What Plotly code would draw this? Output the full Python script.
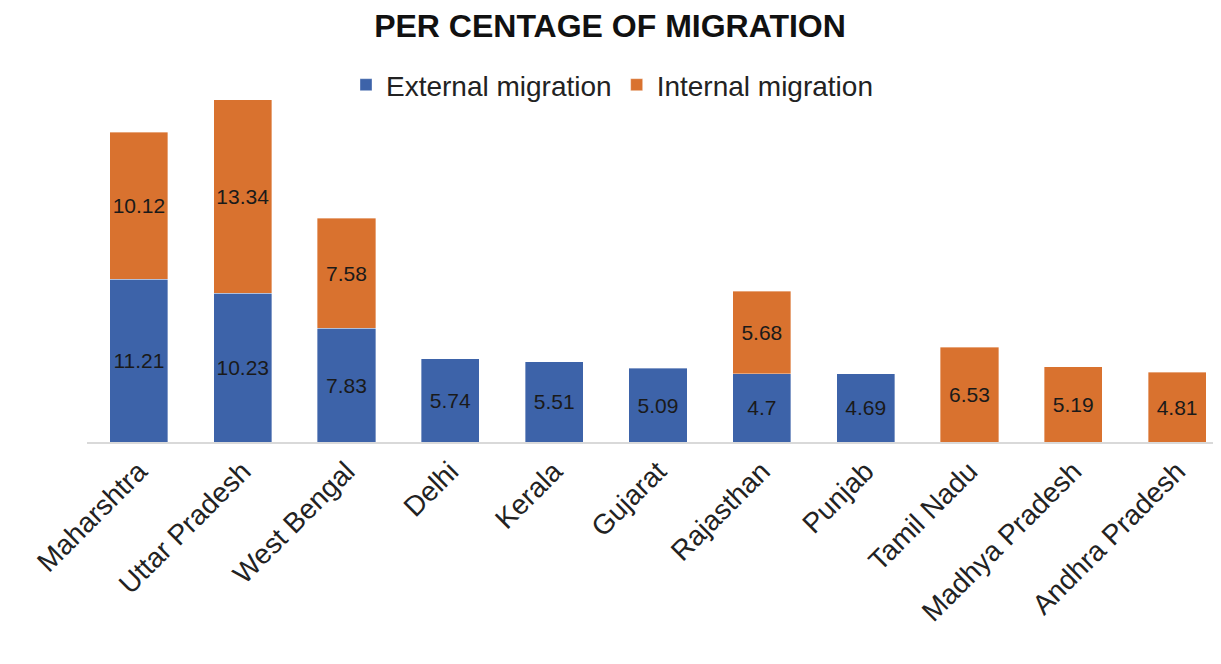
import plotly.graph_objects as go

states = ["Maharshtra", "Uttar Pradesh", "West Bengal", "Delhi", "Kerala", "Gujarat",
          "Rajasthan", "Punjab", "Tamil Nadu", "Madhya Pradesh", "Andhra Pradesh"]
external = [11.21, 10.23, 7.83, 5.74, 5.51, 5.09, 4.7, 4.69, None, None, None]
internal = [10.12, 13.34, 7.58, None, None, None, 5.68, None, 6.53, 5.19, 4.81]

BLUE = "#3D63A9"
ORANGE = "#D9722F"
FONT = "Liberation Sans, Arial, sans-serif"
OFF = 8  # page body margin

fig = go.Figure()
for name, vals, col in [("External migration", external, BLUE),
                        ("Internal migration", internal, ORANGE)]:
    fig.add_trace(go.Bar(
        x=states, y=vals, name=name,
        marker=dict(color=col, line=dict(color="rgba(255,255,255,0.6)", width=0.6)),
        text=[("" if v is None else f"{v:g}") for v in vals],
        textposition="inside", insidetextanchor="middle", textangle=0,
        constraintext="none",
        textfont=dict(family=FONT, size=21, color="#1a1a1a"),
        hoverinfo="skip",
    ))

fig.update_layout(
    barmode="stack",
    bargap=0.44,
    width=1221, height=664,
    margin=dict(l=87 - OFF, r=0, t=95 - OFF, b=230, autoexpand=False),
    paper_bgcolor="white", plot_bgcolor="white",
    font=dict(family=FONT, color="#222222"),
    title=dict(text="<b>PER CENTAGE OF MIGRATION</b>", x=(610 - OFF) / 1221, xanchor="center",
               y=1 - (26 - OFF) / 664, yanchor="middle", yref="container",
               font=dict(family=FONT, size=32, color="#111111")),
    legend=dict(orientation="h", x=(612 - OFF) / 1221, xanchor="center",
                y=1 - (85 - OFF) / 664, xref="container",
                yanchor="middle", yref="container",
                font=dict(family=FONT, size=28, color="#222222"),
                itemwidth=30, traceorder="normal"),
    showlegend=True,
)
fig.update_xaxes(
    range=[-0.5, 10.5], showline=True, linecolor="#d9d9d9", linewidth=1.5,
    tickangle=-45, tickfont=dict(family=FONT, size=28, color="#222222"),
    ticks="", showgrid=False, automargin=False,
)
fig.update_yaxes(range=[0, 23.88], visible=False, showgrid=False, zeroline=False)

fig.write_html("out.html")
